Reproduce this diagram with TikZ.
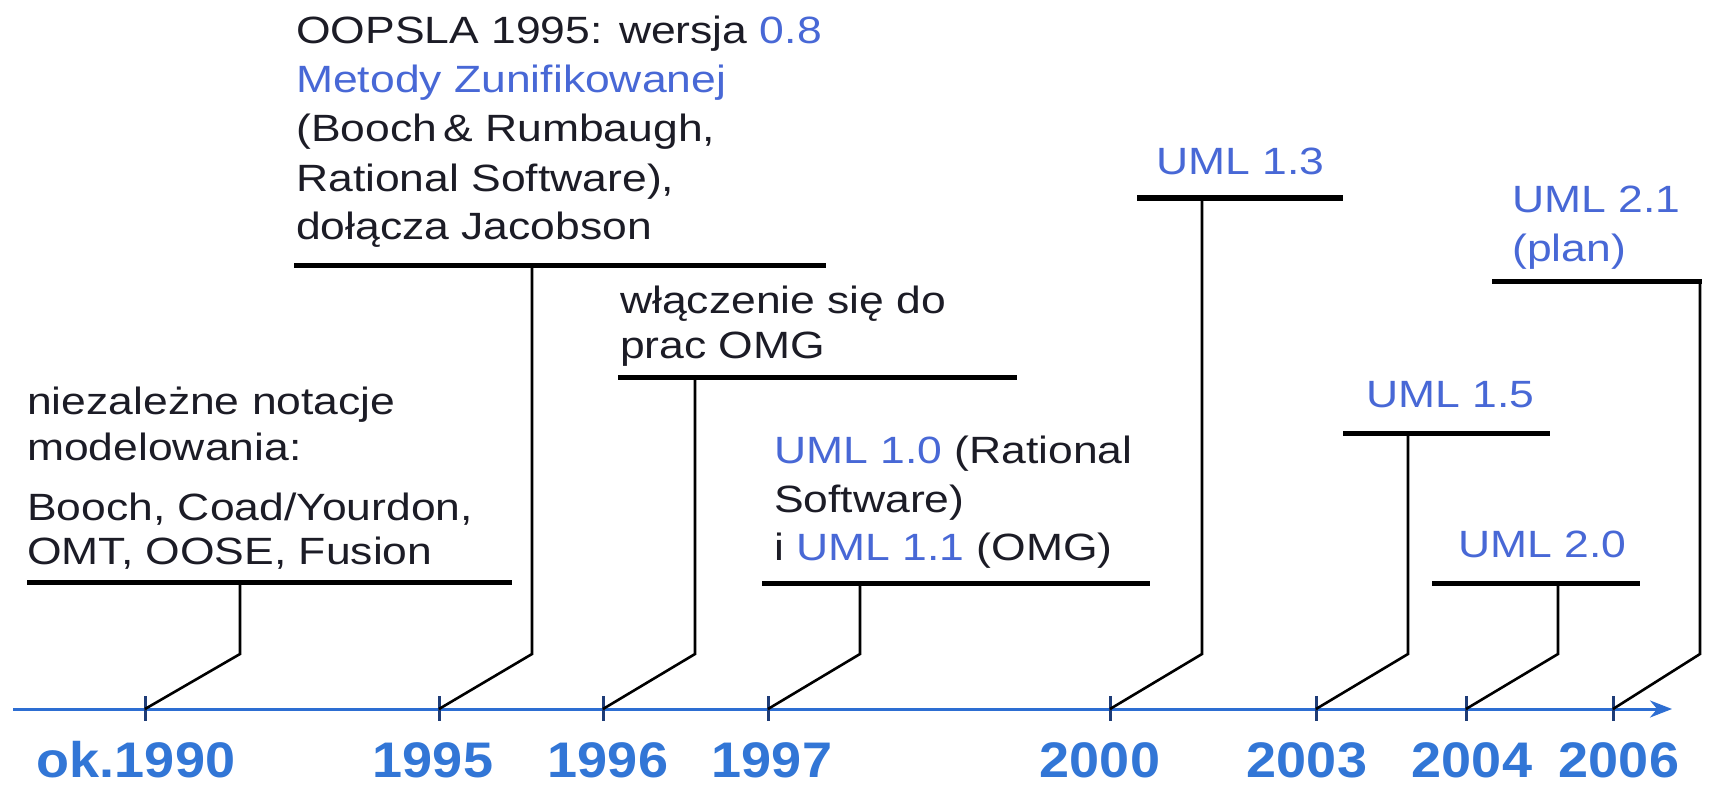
\documentclass[tikz,border=0pt]{standalone}
\usepackage{fontspec}
\setmainfont{Liberation Sans}[FakeStretch=1.17]
\newfontfamily\yearfont{Liberation Sans}[FakeStretch=1.08]
\usetikzlibrary{arrows.meta}
\definecolor{axisblue}{RGB}{45,110,210}
\definecolor{yearblue}{RGB}{50,118,214}
\definecolor{umlblue}{RGB}{72,104,214}
\definecolor{ink}{RGB}{28,28,38}
\definecolor{tickcol}{RGB}{30,60,120}
\tikzset{
  axisline/.style={line width=3pt, draw=axisblue, -{Stealth[length=22pt,width=17pt]}},
  tickmark/.style={line width=3pt, draw=tickcol},
  leader/.style={line width=2.6pt, draw=black, line join=miter},
  barline/.style={line width=5pt, draw=black},
  txt/.style={anchor=base west, inner sep=0pt, text=ink, font=\fontsize{38}{49}\selectfont},
  year/.style={anchor=base, inner sep=0pt, text depth=0pt, text=yearblue, font=\yearfont\fontsize{50}{58}\selectfont\bfseries},
}
\begin{document}
\begin{tikzpicture}[x=1pt,y=-1pt]
\useasboundingbox[fill=white] (0,0) rectangle (1709,789);
% axis
\coordinate (a0) at (13,709);
\coordinate (a1) at (1672,709);
\draw[axisline] (a0) -- (a1);
% events: index / tick x / vertical x / bar y / bar left / bar right
\foreach \n/\t/\v/\b/\l/\r in {1/145/240/582/27/512, 2/439/532/265/294/826, 3/603/695/377/618/1017, 4/768/860/583/762/1150, 5/1110/1202/198/1137/1343, 6/1316/1408/433/1343/1550, 7/1466/1558/583/1432/1640}{
  \coordinate (t\n) at (\t,709);
  \coordinate (k\n) at (\v,654);
  \coordinate (v\n) at (\v,\b);
  \coordinate (bl\n) at (\l,\b);
  \coordinate (br\n) at (\r,\b);
  \draw[tickmark] (\t,696) -- (\t,721);
  \draw[leader] (t\n) -- (k\n) -- (v\n);
  \draw[barline] (bl\n) -- (br\n);
}
% last event (2006) with corner
\coordinate (t8) at (1613,709);
\coordinate (k8) at (1700,654);
\coordinate (v8) at (1700,281);
\coordinate (bl8) at (1492,281);
\draw[tickmark] (1613,696) -- (1613,721);
\draw[leader] (t8) -- (k8) -- (v8);
\draw[barline] (bl8) -- ([xshift=1.5pt]v8);
% texts
\node[txt] (e1a) at (27,414) {niezależne notacje};
\node[txt] (e1b) at (27,460) {modelowania:};
\node[txt] (e1c) at (27,520) {Booch, Coad/Yourdon,};
\node[txt] (e1d) at (27,564) {OMT, OOSE, Fusion};
\node[txt] (e2a) at (296,44) {OOPSLA 1995: wersja \textcolor{umlblue}{0.8}};
\node[txt] (e2b) at (296,93) {\textcolor{umlblue}{Metody Zunifikowanej}};
\node[txt] (e2c) at (296,142) {(Booch\,\& Rumbaugh,};
\node[txt] (e2d) at (296,191) {Rational Software),};
\node[txt] (e2e) at (296,240) {dołącza Jacobson};
\node[txt] (e3a) at (620,313) {włączenie się do};
\node[txt] (e3b) at (620,358) {prac OMG};
\node[txt] (e4a) at (774,463) {\textcolor{umlblue}{UML 1.0} (Rational};
\node[txt] (e4b) at (774,512) {Software)};
\node[txt] (e4c) at (774,560) {i \textcolor{umlblue}{UML 1.1} (OMG)};
\node[txt,text=umlblue] (e5a) at (1156,175) {UML 1.3};
\node[txt,text=umlblue] (e6a) at (1366,407) {UML 1.5};
\node[txt,text=umlblue] (e7a) at (1458,557) {UML 2.0};
\node[txt,text=umlblue] (e8a) at (1512,212) {UML 2.1};
\node[txt,text=umlblue] (e8b) at (1512,261) {(plan)};
% years
\node[year] (y1) at (136,777) {ok.1990};
\node[year] (y2) at (433,777) {1995};
\node[year] (y3) at (608,777) {1996};
\node[year] (y4) at (772,777) {1997};
\node[year] (y5) at (1100,777) {2000};
\node[year] (y6) at (1307,777) {2003};
\node[year] (y7) at (1472,777) {2004};
\node[year] (y8) at (1619,777) {2006};
\end{tikzpicture}
\end{document}
